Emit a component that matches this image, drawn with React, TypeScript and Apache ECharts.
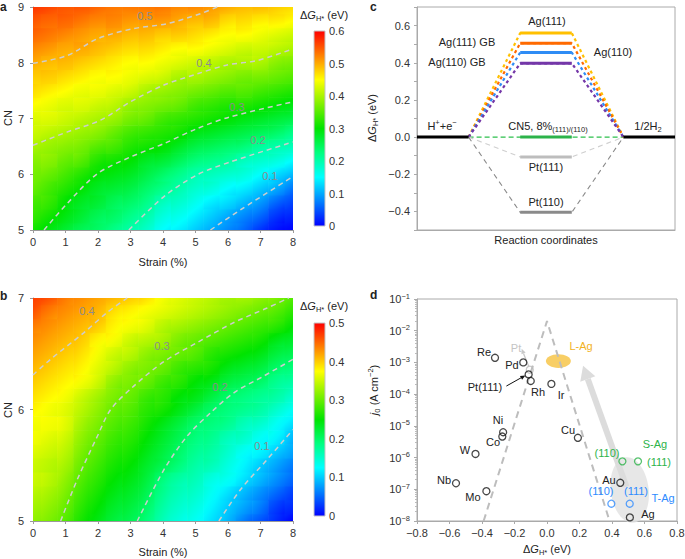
import React, { useEffect, useRef } from 'react';
import * as echarts from 'echarts';

const FONT = "'Liberation Sans', Arial, Helvetica, sans-serif";

// ---------- Panels a / b : ΔG_H* maps (strain × CN) ----------
const strainGrid = [0, 0.5, 1, 1.5, 2, 2.5, 3, 3.5, 4, 4.5, 5, 5.5, 6, 6.5, 7, 7.5, 8];
const cnGridA = [5, 5.25, 5.5, 5.75, 6, 6.25, 6.5, 6.75, 7, 7.25, 7.5, 7.75, 8, 8.25, 8.5, 8.75, 9];
const cnGridB = [5, 5.125, 5.25, 5.375, 5.5, 5.625, 5.75, 5.875, 6, 6.125, 6.25, 6.375, 6.5, 6.625, 6.75, 6.875, 7];

// one row per strain value, CN increasing
const heatA = [
  [0.31, 0.33, 0.34, 0.36, 0.37, 0.38, 0.40, 0.42, 0.43, 0.45, 0.47, 0.48, 0.50, 0.52, 0.54, 0.55, 0.57],
  [0.29, 0.31, 0.33, 0.34, 0.36, 0.38, 0.39, 0.41, 0.43, 0.44, 0.46, 0.48, 0.49, 0.51, 0.53, 0.54, 0.56],
  [0.27, 0.29, 0.30, 0.32, 0.34, 0.36, 0.38, 0.40, 0.42, 0.43, 0.45, 0.47, 0.49, 0.50, 0.52, 0.54, 0.55],
  [0.25, 0.27, 0.28, 0.30, 0.32, 0.35, 0.37, 0.39, 0.41, 0.43, 0.44, 0.46, 0.48, 0.50, 0.51, 0.53, 0.55],
  [0.24, 0.25, 0.27, 0.28, 0.30, 0.32, 0.35, 0.38, 0.40, 0.42, 0.44, 0.45, 0.47, 0.49, 0.50, 0.52, 0.54],
  [0.22, 0.24, 0.25, 0.27, 0.29, 0.31, 0.34, 0.36, 0.39, 0.41, 0.43, 0.45, 0.46, 0.48, 0.50, 0.52, 0.53],
  [0.20, 0.22, 0.24, 0.26, 0.28, 0.30, 0.32, 0.34, 0.37, 0.39, 0.42, 0.44, 0.45, 0.47, 0.49, 0.51, 0.53],
  [0.18, 0.20, 0.22, 0.24, 0.26, 0.28, 0.31, 0.33, 0.36, 0.38, 0.40, 0.43, 0.45, 0.47, 0.49, 0.51, 0.53],
  [0.15, 0.17, 0.19, 0.22, 0.24, 0.27, 0.30, 0.32, 0.34, 0.37, 0.39, 0.42, 0.44, 0.46, 0.48, 0.51, 0.53],
  [0.14, 0.16, 0.18, 0.20, 0.22, 0.25, 0.28, 0.31, 0.33, 0.36, 0.38, 0.40, 0.43, 0.45, 0.48, 0.50, 0.52],
  [0.12, 0.14, 0.16, 0.18, 0.20, 0.23, 0.26, 0.29, 0.32, 0.34, 0.37, 0.40, 0.42, 0.45, 0.47, 0.49, 0.52],
  [0.10, 0.12, 0.14, 0.17, 0.19, 0.22, 0.25, 0.28, 0.31, 0.33, 0.36, 0.39, 0.41, 0.44, 0.46, 0.49, 0.51],
  [0.08, 0.10, 0.13, 0.15, 0.18, 0.21, 0.24, 0.27, 0.30, 0.32, 0.35, 0.38, 0.40, 0.43, 0.45, 0.47, 0.50],
  [0.06, 0.08, 0.11, 0.14, 0.17, 0.19, 0.23, 0.26, 0.29, 0.32, 0.35, 0.37, 0.40, 0.42, 0.45, 0.47, 0.49],
  [0.03, 0.06, 0.09, 0.12, 0.15, 0.18, 0.21, 0.25, 0.28, 0.31, 0.34, 0.37, 0.40, 0.42, 0.44, 0.46, 0.49],
  [0.01, 0.03, 0.06, 0.10, 0.13, 0.17, 0.20, 0.24, 0.27, 0.30, 0.33, 0.36, 0.38, 0.41, 0.43, 0.46, 0.48],
  [0.00, 0.02, 0.04, 0.07, 0.11, 0.15, 0.19, 0.22, 0.26, 0.29, 0.32, 0.35, 0.37, 0.40, 0.42, 0.45, 0.47],
];

const heatB = [
  [0.32, 0.33, 0.34, 0.35, 0.35, 0.36, 0.37, 0.37, 0.38, 0.39, 0.40, 0.41, 0.42, 0.43, 0.44, 0.46, 0.47],
  [0.31, 0.32, 0.33, 0.34, 0.34, 0.35, 0.36, 0.37, 0.37, 0.38, 0.39, 0.40, 0.41, 0.42, 0.43, 0.44, 0.46],
  [0.29, 0.30, 0.31, 0.32, 0.33, 0.34, 0.35, 0.36, 0.36, 0.37, 0.38, 0.39, 0.40, 0.41, 0.42, 0.43, 0.44],
  [0.26, 0.27, 0.28, 0.29, 0.30, 0.31, 0.32, 0.33, 0.34, 0.35, 0.37, 0.38, 0.39, 0.40, 0.41, 0.42, 0.43],
  [0.24, 0.25, 0.26, 0.27, 0.28, 0.29, 0.30, 0.31, 0.32, 0.33, 0.35, 0.36, 0.37, 0.38, 0.40, 0.41, 0.42],
  [0.22, 0.23, 0.24, 0.25, 0.26, 0.27, 0.28, 0.29, 0.30, 0.31, 0.32, 0.34, 0.35, 0.37, 0.38, 0.39, 0.41],
  [0.21, 0.22, 0.23, 0.24, 0.25, 0.26, 0.27, 0.28, 0.29, 0.30, 0.31, 0.32, 0.34, 0.35, 0.37, 0.38, 0.40],
  [0.19, 0.20, 0.21, 0.22, 0.23, 0.24, 0.25, 0.26, 0.27, 0.28, 0.30, 0.31, 0.32, 0.34, 0.36, 0.37, 0.39],
  [0.16, 0.17, 0.18, 0.19, 0.21, 0.22, 0.23, 0.24, 0.26, 0.27, 0.28, 0.30, 0.31, 0.33, 0.34, 0.36, 0.37],
  [0.14, 0.15, 0.16, 0.17, 0.19, 0.20, 0.21, 0.22, 0.24, 0.25, 0.27, 0.28, 0.30, 0.31, 0.33, 0.35, 0.36],
  [0.13, 0.14, 0.15, 0.16, 0.17, 0.18, 0.19, 0.20, 0.22, 0.24, 0.25, 0.27, 0.29, 0.30, 0.32, 0.34, 0.35],
  [0.11, 0.12, 0.13, 0.14, 0.16, 0.17, 0.18, 0.19, 0.20, 0.22, 0.24, 0.26, 0.27, 0.29, 0.31, 0.33, 0.34],
  [0.09, 0.10, 0.11, 0.13, 0.14, 0.15, 0.16, 0.18, 0.19, 0.20, 0.22, 0.24, 0.26, 0.28, 0.30, 0.32, 0.33],
  [0.06, 0.08, 0.09, 0.11, 0.12, 0.13, 0.15, 0.16, 0.18, 0.19, 0.21, 0.23, 0.25, 0.27, 0.29, 0.31, 0.33],
  [0.04, 0.06, 0.07, 0.09, 0.10, 0.12, 0.13, 0.15, 0.17, 0.18, 0.20, 0.22, 0.24, 0.26, 0.28, 0.30, 0.32],
  [0.02, 0.03, 0.05, 0.07, 0.08, 0.10, 0.12, 0.13, 0.15, 0.17, 0.18, 0.20, 0.22, 0.24, 0.27, 0.29, 0.31],
  [0.00, 0.02, 0.03, 0.05, 0.06, 0.08, 0.09, 0.11, 0.13, 0.15, 0.17, 0.19, 0.21, 0.23, 0.25, 0.27, 0.29],
];

// contour lines [strain, CN]
const contourA05 = [[0, 7.99], [1.06, 8.13], [1.98, 8.43], [3.07, 8.61], [4.12, 8.7], [5.15, 8.88], [5.67, 9.0]];
const contourA04 = [[0, 6.52], [1.06, 6.76], [2.08, 6.97], [3, 7.3], [4.03, 7.6], [5.05, 7.8], [5.97, 7.96], [6.9, 8.04], [8, 8.25]];
const contourA03 = [[0.34, 5], [1.06, 5.48], [1.98, 6.01], [3, 6.31], [4.03, 6.55], [5.05, 6.82], [6.07, 7.03], [8, 7.3]];
const contourA02 = [[2.95, 5], [4.03, 5.6], [5.05, 5.99], [6.07, 6.22], [8, 6.58]];
const contourA01 = [[5.46, 5], [6.38, 5.36], [8, 5.96]];
const contourB04 = [[0, 6.31], [0.54, 6.45], [1.57, 6.69], [2.28, 6.87], [2.9, 7.0]];
const contourB03 = [[0.85, 5], [1.36, 5.37], [1.98, 5.76], [2.39, 6.0], [3.1, 6.21], [4.03, 6.43], [5.05, 6.6], [6.18, 6.78], [7.2, 6.91], [7.87, 7.0]];
const contourB02 = [[3.21, 5], [4.03, 5.46], [4.74, 5.76], [5.46, 5.97], [6.18, 6.15], [7.1, 6.3], [8, 6.45]];
const contourB01 = [[5.72, 5], [6.38, 5.28], [7.2, 5.55], [8, 5.82]];

const rainbow = ['#0000ff', '#0080ff', '#00ffff', '#00ff80', '#00e400', '#80f000', '#ffff00', '#ff8000', '#ff0000'];

// ---------- Panel c : energy diagram ----------
const cLevelNames = ['Ag(111)', 'Ag(111) GB', 'Ag(110)', 'Ag(110) GB', 'CN5, 8%', 'Pt(111)', 'Pt(110)'];
const cLevelValues = [0.56, 0.505, 0.455, 0.397, 0.0, -0.107, -0.405];
const cLevelColors = ['#ffc000', '#ff6a00', '#2f8cf5', '#7437a8', '#2cb34a', '#bdbdbd', '#8a8a8a'];
const cStepStart = [0, 1]; // initial state span
const cStepMid = [2, 3]; // intermediate span
const cStepEnd = [4, 5]; // final state span

// ---------- Panel d : volcano plot ----------
const dMetalNames = ['Re', 'Pd', 'Pt(111)', 'Rh', 'Ir', 'Ni', 'Co', 'W', 'Nb', 'Mo', 'Cu', 'Au', 'Ag'];
const dMetalDG = [-0.32, -0.146, -0.113, -0.1, 0.027, -0.27, -0.275, -0.44, -0.56, -0.373, 0.19, 0.451, 0.51];
const dMetalJ0 = [1.4e-3, 1.0e-3, 4.2e-4, 2.6e-4, 2.1e-4, 6.3e-6, 4.6e-6, 1.3e-6, 1.55e-7, 8.7e-8, 4.2e-6, 1.6e-7, 1.3e-8];
const dPtDG = [-0.106];
const dPtJ0 = [5.9e-4];
const dSAgDG = [0.464, 0.56];
const dSAgJ0 = [7.6e-7, 7.6e-7];
const dTAgDG = [0.396, 0.509];
const dTAgJ0 = [3.5e-8, 3.5e-8];
const dVolcano = [[-0.39, 1e-8], [0, 2e-2], [0.385, 1e-8]];
const dRegionLAg = [0.07, 1.1e-3];
const dRegionGray = [0.509, 9.5e-8];
const dArrowBig = [[0.489, 1.2e-7, 0.222, 7.8e-4]];
const dArrowSmall = [[-0.25, 1.8e-4, -0.133, 3.9e-4], [-0.112, 7.5e-4, -0.156, 2.7e-3]];

function rich(color: string, size = 11) {
  const base = { fontFamily: FONT, fill: color, color, fontWeight: 'normal' };
  return {
    n: { ...base, fontSize: size, lineHeight: 14, verticalAlign: 'middle' },
    i: { ...base, fontSize: size, lineHeight: 14, fontStyle: 'italic', verticalAlign: 'middle' },
    sub: { ...base, fontSize: size * 0.68, lineHeight: 8, verticalAlign: 'bottom' },
    sup: { ...base, fontSize: size * 0.68, lineHeight: 8, verticalAlign: 'top' },
  };
}

function txt(x: number, y: number, text: string, o: any = {}) {
  const color = o.color || '#222';
  return {
    type: 'text',
    x,
    y,
    rotation: o.rot || 0,
    z: 100,
    silent: true,
    style: {
      text,
      fill: color,
      fontSize: o.size || 11,
      fontFamily: FONT,
      fontWeight: o.bold ? 'bold' : 'normal',
      align: o.align || 'center',
      verticalAlign: 'middle',
      rich: rich(color, o.size || 11),
    },
  };
}

const GRAY = '#9a9a9a';
const axisLabel = { color: '#333', fontSize: 11, fontFamily: FONT };

function heatSeries(grid: number, vals: number[][], cn: number[], hs: number, hc: number, vmax: number) {
  const data: number[][] = [];
  strainGrid.forEach((s, i) => cn.forEach((c, j) => data.push([s, c, vals[i][j], i, j])));
  const col = (v: number) => echarts.color.lerp(Math.max(0, Math.min(1, v / vmax)), rainbow) as string;
  const n = cn.length;
  const ni = strainGrid.length;
  return {
    type: 'custom',
    xAxisIndex: grid,
    yAxisIndex: grid,
    clip: true,
    silent: true,
    z: 1,
    encode: { x: 0, y: 1 },
    data,
    renderItem: (params: any, api: any) => {
      const s = api.value(0);
      const c = api.value(1);
      const i = api.value(3);
      const j = api.value(4);
      const v = vals[i][j];
      const p0 = api.coord([s - hs, c + hc]);
      const p1 = api.coord([s + hs, c - hc]);
      const W = p1[0] - p0[0];
      const H = p1[1] - p0[1];
      const cx = (p0[0] + p1[0]) / 2;
      const cy = (p0[1] + p1[1]) / 2;
      const il = Math.max(0, i - 1);
      const ir = Math.min(ni - 1, i + 1);
      const jb = Math.max(0, j - 1);
      const jt = Math.min(n - 1, j + 1);
      const gx = (vals[ir][j] - vals[il][j]) / ((ir - il) * W);
      const gUp = (vals[i][jt] - vals[i][jb]) / ((jt - jb) * H);
      const gsx = gx;
      const gsy = -gUp;
      const gm = Math.hypot(gsx, gsy);
      let fill: any = col(v);
      if (gm > 1e-9) {
        const ux = gsx / gm;
        const uy = gsy / gm;
        const L = Math.abs(ux) * W / 2 + Math.abs(uy) * H / 2 + 0.5;
        const stops = [0, 0.25, 0.5, 0.75, 1].map((o) => ({ offset: o, color: col(v + (o - 0.5) * 2 * gm * L) }));
        fill = new echarts.graphic.LinearGradient(cx - ux * L, cy - uy * L, cx + ux * L, cy + uy * L, stops, true);
      }
      return {
        type: 'rect',
        shape: { x: p0[0] - 0.3, y: p0[1] - 0.3, width: W + 0.6, height: H + 0.6 },
        style: { fill },
      };
    },
  };
}

function colorbarSeries(grid: number, max: number) {
  return {
    type: 'custom',
    xAxisIndex: grid,
    yAxisIndex: grid,
    silent: true,
    data: [[0, 0]],
    renderItem: (params: any, api: any) => {
      const p0 = api.coord([0, max]);
      const p1 = api.coord([1, 0]);
      return {
        type: 'rect',
        shape: { x: p0[0], y: p0[1], width: p1[0] - p0[0], height: p1[1] - p0[1] },
        style: {
          fill: new echarts.graphic.LinearGradient(0, 1, 0, 0,
            rainbow.map((c, k) => ({ offset: k / (rainbow.length - 1), color: c }))),
          stroke: '#c4c4c4',
          lineWidth: 1,
        },
      };
    },
  };
}

function contour(grid: number, pts: number[][]) {
  return {
    type: 'line',
    xAxisIndex: grid,
    yAxisIndex: grid,
    data: pts,
    symbol: 'none',
    smooth: 0.3,
    silent: true,
    z: 5,
    lineStyle: { color: '#cdcdcd', width: 1.5, type: [5, 4] },
  };
}

function mapAxes(grid: number, ymin: number, ymax: number) {
  const x = {
    gridIndex: grid, type: 'value', min: 0, max: 8, interval: 1,
    axisLine: { show: true, onZero: false, lineStyle: { color: GRAY } },
    axisTick: { show: true, length: 3, lineStyle: { color: GRAY } },
    axisLabel: { ...axisLabel, margin: 6 },
    splitLine: { show: false },
  };
  const y = {
    gridIndex: grid, type: 'value', min: ymin, max: ymax, interval: 1,
    axisLine: { show: true, onZero: false, lineStyle: { color: GRAY } },
    axisTick: { show: true, length: 3, lineStyle: { color: GRAY } },
    axisLabel: { ...axisLabel, margin: 9 },
    splitLine: { show: false },
  };
  return [x, y];
}

function cbarAxes(grid: number, max: number) {
  const x = { gridIndex: grid, type: 'value', min: 0, max: 1, show: false };
  const y = {
    gridIndex: grid, type: 'value', min: 0, max, interval: 0.1, position: 'right',
    axisLine: { show: false }, axisTick: { show: false }, splitLine: { show: false },
    axisLabel: { ...axisLabel, margin: 4, formatter: (v: number) => (Math.abs(v) < 1e-9 ? '0' : v.toFixed(1)) },
  };
  return [x, y];
}

function buildOption() {
  const [ax0, ay0] = mapAxes(0, 5, 9);
  const [ax1, ay1] = cbarAxes(1, 0.6);
  const [ax2, ay2] = mapAxes(2, 5, 7);
  const [ax3, ay3] = cbarAxes(3, 0.5);

  const ax4 = {
    gridIndex: 4, type: 'value', min: 0, max: 5,
    axisLine: { show: true, onZero: false, lineStyle: { color: '#aaa' } },
    axisTick: { show: false }, axisLabel: { show: false }, splitLine: { show: false },
  };
  const ay4 = {
    gridIndex: 4, type: 'value', min: -0.5, max: 0.7, interval: 0.1,
    axisLine: { show: true, onZero: false, lineStyle: { color: '#aaa' } },
    axisTick: { show: true, length: 3, lineStyle: { color: '#aaa' } },
    splitLine: { show: false },
    axisLabel: {
      ...axisLabel, margin: 7,
      formatter: (v: number) => {
        const k = Math.round(v * 10);
        if (k % 2 !== 0) return '';
        if (k === 0) return '0.0';
        return (k < 0 ? '\u2212' : '') + Math.abs(v).toFixed(1);
      },
    },
  };
  const ax5 = {
    gridIndex: 5, type: 'value', min: -0.8, max: 0.8, interval: 0.2,
    axisLine: { show: true, onZero: false, lineStyle: { color: '#aaa' } },
    axisTick: { show: true, length: 3, lineStyle: { color: '#aaa' } },
    splitLine: { show: false },
    axisLabel: {
      ...axisLabel, margin: 6,
      formatter: (v: number) => {
        const k = Math.round(v * 10);
        if (k === 0) return '0.0';
        return (k < 0 ? '\u2212' : '') + Math.abs(v).toFixed(1);
      },
    },
  };
  const ay5 = {
    gridIndex: 5, type: 'log', logBase: 10, min: 1e-8, max: 1e-1,
    axisLine: { show: true, onZero: false, lineStyle: { color: '#aaa' } },
    axisTick: { show: true, length: 3, lineStyle: { color: '#aaa' } },
    minorTick: { show: true, splitNumber: 9, length: 2, lineStyle: { color: '#bbb' } },
    splitLine: { show: false },
    axisLabel: {
      ...axisLabel, margin: 7,
      formatter: (v: number) => `{b|10}{s|\u2212${Math.abs(Math.round(Math.log10(v)))}}`,
      rich: {
        b: { fontSize: 11, lineHeight: 14, color: '#333', fontFamily: FONT, verticalAlign: 'middle' },
        s: { fontSize: 7.5, lineHeight: 8, color: '#333', fontFamily: FONT, verticalAlign: 'top' },
      },
    },
  };

  const series: any[] = [];
  series.push(heatSeries(0, heatA, cnGridA, 0.25, 0.125, 0.6));
  series.push(heatSeries(2, heatB, cnGridB, 0.25, 0.0625, 0.5));
  series.push(colorbarSeries(1, 0.6));
  series.push(colorbarSeries(3, 0.5));
  [contourA05, contourA04, contourA03, contourA02, contourA01].forEach((c) => series.push(contour(0, c)));
  [contourB04, contourB03, contourB02, contourB01].forEach((c) => series.push(contour(2, c)));

  // Panel c
  const lineC = (data: number[][], color: string, width: number, type: any, z: number) => ({
    type: 'line', xAxisIndex: 4, yAxisIndex: 4, data, symbol: 'none', silent: true, z,
    lineStyle: { color, width, type },
  });
  series.push(lineC([[cStepStart[1], 0], [cStepEnd[0], 0]], '#2cc04c', 1.3, [5, 3], 3));
  cLevelValues.forEach((v, k) => {
    if (k === 4) return;
    const isAg = k < 4;
    series.push(lineC(
      [[cStepStart[1], 0], [cStepMid[0], v], [cStepMid[1], v], [cStepEnd[0], 0]],
      k === 5 ? '#cfcfcf' : cLevelColors[k], isAg ? 2.2 : 1.1, isAg ? [3, 3] : [5, 4], 3));
  });
  cLevelValues.forEach((v, k) => {
    series.push(lineC([[cStepMid[0], v], [cStepMid[1], v]], cLevelColors[k], 3, 'solid', 6));
  });
  series.push(lineC([[cStepStart[0], 0], [cStepStart[1], 0]], '#000', 3, 'solid', 6));
  series.push(lineC([[cStepEnd[0], 0], [cStepEnd[1], 0]], '#000', 3, 'solid', 6));

  // Panel d
  series.push({
    type: 'custom', xAxisIndex: 5, yAxisIndex: 5, silent: true, z: 1,
    encode: { x: 0, y: 1 },
    data: [dRegionGray, dRegionLAg],
    renderItem: (params: any, api: any) => {
      const p = api.coord([api.value(0), api.value(1)]);
      const big = params.dataIndex === 0;
      return {
        type: 'ellipse',
        x: p[0], y: p[1],
        rotation: big ? 0.12 : 0,
        shape: { cx: 0, cy: 0, rx: big ? 19 : 12.5, ry: big ? 33 : 6.8 },
        style: { fill: big ? 'rgba(225,225,225,0.8)' : 'rgba(246,190,50,0.75)' },
      };
    },
  });
  const arrowRender = (styles: any[]) => (params: any, api: any) => {
    const st = styles[params.dataIndex];
    const a = api.coord([api.value(0), api.value(1)]);
    const b = api.coord([api.value(2), api.value(3)]);
    const dx = b[0] - a[0];
    const dy = b[1] - a[1];
    const L = Math.hypot(dx, dy);
    const ux = dx / L, uy = dy / L, nx = -uy, ny = ux;
    const hb = [b[0] - ux * st.hl, b[1] - uy * st.hl];
    return {
      type: 'group',
      children: [
        { type: 'line', shape: { x1: a[0], y1: a[1], x2: hb[0], y2: hb[1] }, style: { stroke: st.color, lineWidth: st.w } },
        {
          type: 'polygon',
          shape: { points: [[b[0], b[1]], [hb[0] + nx * st.hw / 2, hb[1] + ny * st.hw / 2], [hb[0] - nx * st.hw / 2, hb[1] - ny * st.hw / 2]] },
          style: { fill: st.color },
        },
      ],
    };
  };
  series.push({
    type: 'custom', xAxisIndex: 5, yAxisIndex: 5, silent: true, z: 2,
    encode: { x: [0, 2], y: [1, 3] },
    data: dArrowBig,
    renderItem: arrowRender([{ color: '#dcdcdc', w: 6, hl: 14, hw: 16 }]),
  });
  series.push({
    type: 'line', xAxisIndex: 5, yAxisIndex: 5, data: dVolcano, symbol: 'none', silent: true, z: 3,
    lineStyle: { color: '#bdbdbd', width: 2, type: [7, 5] },
  });
  series.push({
    type: 'custom', xAxisIndex: 5, yAxisIndex: 5, silent: true, z: 4,
    encode: { x: [0, 2], y: [1, 3] },
    data: dArrowSmall,
    renderItem: arrowRender([{ color: '#111', w: 1, hl: 5, hw: 4.5 }, { color: '#c8c8c8', w: 1.3, hl: 5, hw: 4.5 }]),
  });
  const scat = (xs: number[], ys: number[], color: string) => ({
    type: 'scatter', xAxisIndex: 5, yAxisIndex: 5, silent: true, z: 5,
    symbol: 'circle', symbolSize: 7,
    data: xs.map((x, i) => [x, ys[i]]),
    itemStyle: { color: 'rgba(255,255,255,0)', borderColor: color, borderWidth: 1.3 },
  });
  series.push(scat(dPtDG, dPtJ0, '#bdbdbd'));
  series.push(scat(dMetalDG, dMetalJ0, '#1a1a1a'));
  series.push(scat(dSAgDG, dSAgJ0, '#2db34a'));
  series.push(scat(dTAgDG, dTAgJ0, '#2e8bff'));

  const dG = '{n|\u0394}{i|G}{sub|H*}{n| (eV)}';
  const G = '#8c8c8c';
  const graphic: any[] = [
    // panel a
    txt(0, 7, 'a', { bold: true, size: 12, align: 'left' }),
    txt(8, 118, 'CN', { rot: Math.PI / 2 }),
    txt(163, 262, 'Strain (%)'),
    txt(300, 15, dG, { align: 'left' }),
    txt(145, 16, '0.5', { color: G }),
    txt(204, 63, '0.4', { color: G }),
    txt(237, 107, '0.3', { color: G }),
    txt(258, 140, '0.2', { color: G }),
    txt(270, 176, '0.1', { color: G }),
    // panel b
    txt(0, 296, 'b', { bold: true, size: 12, align: 'left' }),
    txt(8, 410, 'CN', { rot: Math.PI / 2 }),
    txt(163, 552, 'Strain (%)'),
    txt(300, 306, dG, { align: 'left' }),
    txt(87, 311, '0.4', { color: G }),
    txt(162, 346, '0.3', { color: G }),
    txt(220, 387, '0.2', { color: G }),
    txt(262, 446, '0.1', { color: G }),
    // panel c
    txt(370, 7, 'c', { bold: true, size: 12, align: 'left' }),
    txt(372, 118, dG, { rot: Math.PI / 2 }),
    txt(546, 240, 'Reaction coordinates'),
    txt(547, 21, '{n|' + cLevelNames[0] + '}'),
    txt(467, 42, '{n|' + cLevelNames[1] + '}'),
    txt(613, 52, '{n|' + cLevelNames[2] + '}'),
    txt(457, 62, '{n|' + cLevelNames[3] + '}'),
    txt(442, 126, '{n|H}{sup|+}{n|+e}{sup|\u2212}'),
    txt(548, 126, '{n|' + cLevelNames[4] + '}{sub|(111)/(110)}'),
    txt(648, 126, '{n|1/2H}{sub|2}'),
    txt(546, 167, '{n|' + cLevelNames[5] + '}'),
    txt(546, 202, '{n|' + cLevelNames[6] + '}'),
    // panel d
    txt(370, 295, 'd', { bold: true, size: 12, align: 'left' }),
    txt(374, 390, '{i|j}{sub|0}{n| (A cm}{sup|\u22122}{n|)}', { rot: Math.PI / 2 }),
    txt(547, 549, dG),
    txt(484, 352, dMetalNames[0]),
    txt(512, 365, dMetalNames[1]),
    txt(516, 348, 'Pt', { color: '#c4c4c4' }),
    txt(485, 387, dMetalNames[2]),
    txt(538, 392, dMetalNames[3]),
    txt(561, 395, dMetalNames[4]),
    txt(498, 420, dMetalNames[5]),
    txt(493, 442, dMetalNames[6]),
    txt(465, 450, dMetalNames[7]),
    txt(444, 480, dMetalNames[8]),
    txt(473, 497, dMetalNames[9]),
    txt(568, 430, dMetalNames[10]),
    txt(609, 480, dMetalNames[11]),
    txt(648, 514, dMetalNames[12]),
    txt(581, 346, 'L-Ag', { color: '#f2b21e' }),
    txt(655, 444, 'S-Ag', { color: '#2db34a' }),
    txt(607, 453, '(110)', { color: '#2db34a' }),
    txt(659, 462, '(111)', { color: '#2db34a' }),
    txt(663, 498, 'T-Ag', { color: '#2e8bff' }),
    txt(601, 491, '(110)', { color: '#2e8bff' }),
    txt(636, 491, '(111)', { color: '#2e8bff' }),
  ];

  return {
    animation: false,
    backgroundColor: '#fff',
    textStyle: { fontFamily: FONT },
    grid: [
      { left: 33, top: 7, width: 260, height: 223, outerBoundsMode: 'none' },
      { left: 314, top: 31, width: 11, height: 195, outerBoundsMode: 'none' },
      { left: 33, top: 298, width: 260, height: 223, outerBoundsMode: 'none' },
      { left: 314, top: 323, width: 11, height: 193, outerBoundsMode: 'none' },
      { left: 417, top: 7, width: 258, height: 223, show: true, borderColor: '#aaa', borderWidth: 1, outerBoundsMode: 'none' },
      { left: 417, top: 299, width: 260, height: 222, show: true, borderColor: '#aaa', borderWidth: 1, outerBoundsMode: 'none' },
    ],
    xAxis: [ax0, ax1, ax2, ax3, ax4, ax5],
    yAxis: [ay0, ay1, ay2, ay3, ay4, ay5],
    series,
    graphic,
  };
}

export default function App() {
  const ref = useRef<HTMLDivElement>(null);
  useEffect(() => {
    const chart = echarts.init(ref.current!, null, { renderer: 'svg' });
    chart.setOption(buildOption() as any);
    return () => chart.dispose();
  }, []);
  return (
    <div
      ref={ref}
      style={{ position: 'absolute', left: 0, top: 0, width: 685, height: 559, background: '#fff' }}
    />
  );
}
